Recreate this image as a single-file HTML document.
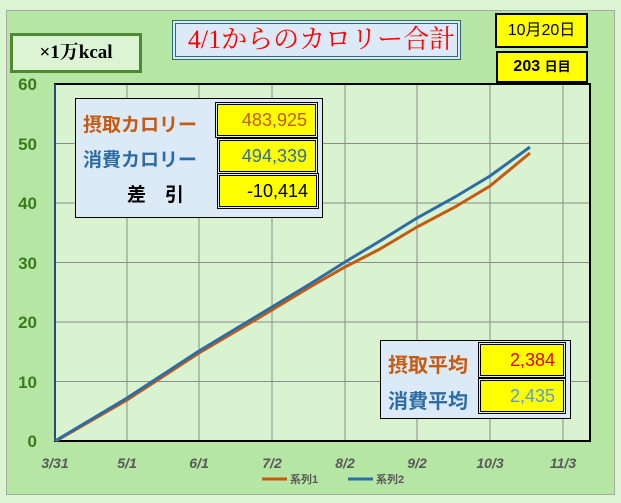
<!DOCTYPE html>
<html><head><meta charset="utf-8"><style>
body{margin:0;width:621px;height:503px;background:#dcf3d4;overflow:hidden;font-family:"Liberation Sans","Noto Sans CJK JP",sans-serif}
svg{position:absolute;left:0;top:0}
.b{position:absolute;box-sizing:border-box}
.y{background:#ffff00;border:1px solid #000;outline:1px solid #000;outline-offset:1px;text-align:right;padding-right:8px;font-size:18px}
.lab{position:absolute;font-size:19px;font-weight:bold}
</style></head><body>
<svg width="621" height="503">
<rect x="6.5" y="10.5" width="608" height="484" fill="#b5e6a4" stroke="#a8a8a8"/>
<rect x="55" y="84" width="535" height="357" fill="#d9f2d0"/>
<g stroke="#8c8c8c" stroke-width="1">
<line x1="127" y1="84" x2="127" y2="441"/><line x1="199" y1="84" x2="199" y2="441"/><line x1="272" y1="84" x2="272" y2="441"/><line x1="345" y1="84" x2="345" y2="441"/><line x1="417" y1="84" x2="417" y2="441"/><line x1="490" y1="84" x2="490" y2="441"/><line x1="563" y1="84" x2="563" y2="441"/>
<line x1="55" y1="143.5" x2="590" y2="143.5"/><line x1="55" y1="203" x2="590" y2="203"/><line x1="55" y1="262.5" x2="590" y2="262.5"/><line x1="55" y1="322" x2="590" y2="322"/><line x1="55" y1="381.5" x2="590" y2="381.5"/>
</g>
<rect x="55" y="84" width="535" height="357" fill="none" stroke="#000" stroke-width="2"/>
<line x1="55" y1="84" x2="55" y2="441" stroke="#1f4e79" stroke-width="2"/>
<polyline fill="none" stroke="#c55a11" stroke-width="3" points="56,441 127,400 199,353 272,310 310,287 345,267 380,249 417,227 455,207 490,186 530,153"/>
<polyline fill="none" stroke="#2e6da4" stroke-width="3" points="55,441 127,398 199,351 272,307 310,284 345,262 380,241 417,218 455,197 490,176 530,147"/>
<g fill="#3a7a1e" font-size="17" font-weight="bold" text-anchor="end">
<text x="37" y="90">60</text><text x="37" y="150">50</text><text x="37" y="209">40</text><text x="37" y="269">30</text><text x="37" y="328">20</text><text x="37" y="388">10</text><text x="37" y="447">0</text></g>
<g fill="#595959" font-size="14" font-weight="bold" font-style="italic" text-anchor="middle">
<text x="55" y="468">3/31</text><text x="127" y="468">5/1</text><text x="199" y="468">6/1</text><text x="272" y="468">7/2</text><text x="345" y="468">8/2</text><text x="417" y="468">9/2</text><text x="490" y="468">10/3</text><text x="563" y="468">11/3</text></g>
<line x1="262" y1="479" x2="287" y2="479" stroke="#c55a11" stroke-width="3"/>
<line x1="348" y1="479" x2="373" y2="479" stroke="#2e6da4" stroke-width="3"/>
<g fill="#595959" font-size="11" font-weight="bold"><text x="290" y="483">系列1</text><text x="376" y="483">系列2</text></g>
</svg>
<div class="b" style="left:10px;top:33px;width:132px;height:40px;background:#dcf3d4;border:3px solid #4e8a34;font-family:'Liberation Serif','Noto Serif CJK SC',serif;font-size:19px;font-weight:bold;text-align:center;line-height:34px">×1万kcal</div>
<div class="b" style="left:172px;top:20px;width:289px;height:40px;background:#dce9f6;border:1px solid #2f6b76;outline:1px solid #2f6b76;outline-offset:-4px;color:#ff0000;font-family:'Liberation Serif','Noto Serif CJK SC',serif;font-size:26px;text-align:center;line-height:38px;padding-left:10px">4/1からのカロリー合計</div>
<div class="b y" style="left:495px;top:13px;width:93px;height:35px;text-align:center;padding:0;line-height:31px;font-size:16px;border-width:2px;outline:none">10月20日</div>
<div class="b y" style="left:496px;top:51px;width:92px;height:32px;text-align:center;padding:0;line-height:28px;font-size:16px;font-weight:bold;border-width:2px;outline:none">203 <span style="font-size:13px">日目</span></div>
<div class="b" style="left:75px;top:98px;width:248px;height:120px;background:#dce9f6;border:1px solid #000"></div>
<div class="lab" style="left:83px;top:110px;color:#c55a11">摂取カロリー</div>
<div class="lab" style="left:83px;top:145px;color:#2e6da4">消費カロリー</div>
<div class="lab" style="left:127px;top:180px;color:#000">差　引</div>
<div class="b y" style="left:217px;top:104px;width:99px;height:32px;line-height:30px;color:#c55a11">483,925</div>
<div class="b y" style="left:219px;top:140px;width:97px;height:32px;line-height:30px;color:#2e6da4">494,339</div>
<div class="b y" style="left:219px;top:175px;width:98px;height:32px;line-height:30px;color:#000">-10,414</div>
<div class="b" style="left:380px;top:340px;width:191px;height:79px;background:#dce9f6;border:1px solid #000"></div>
<div class="lab" style="left:388px;top:349px;color:#c55a11;font-size:20px">摂取平均</div>
<div class="lab" style="left:388px;top:385px;color:#2e6da4;font-size:20px">消費平均</div>
<div class="b y" style="left:480px;top:344px;width:84px;height:32px;line-height:30px;color:#e00000">2,384</div>
<div class="b y" style="left:480px;top:380px;width:84px;height:32px;line-height:30px;color:#5b9bd5">2,435</div>
</body></html>
